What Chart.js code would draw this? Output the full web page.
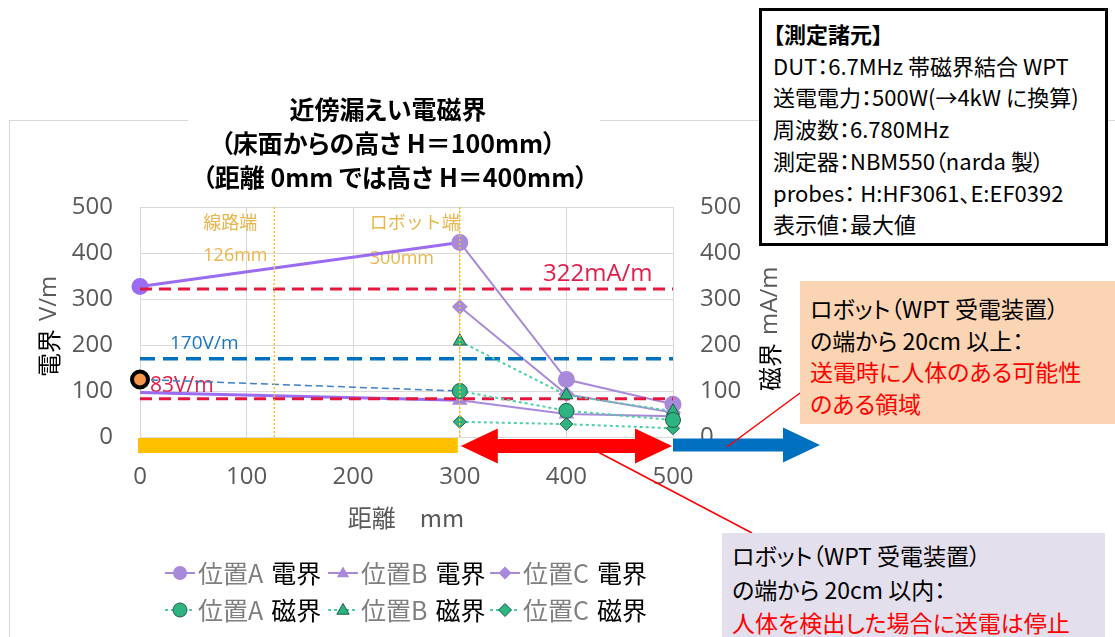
<!DOCTYPE html>
<html lang="ja">
<head>
<meta charset="utf-8">
<title>近傍漏えい電磁界</title>
<script src="https://cdn.jsdelivr.net/npm/chart.js@4.4.1/dist/chart.umd.min.js"></script>
<style>
  html, body { margin: 0; padding: 0; background: #fff; }
  #wrap { position: relative; width: 1115px; height: 637px; overflow: hidden; font-family: "Noto Sans CJK JP", sans-serif; }
  #frame { position: absolute; left: 9px; top: 120px; width: 1300px; height: 700px; border-left: 1px solid #d9d9d9; border-top: 1px solid #d9d9d9; }
  #chart { position: absolute; left: 0; top: 0; }
  .title { position: absolute; left: 188px; top: 92px; width: 412px; height: 102px; background: #fff; }
  .title div { position: absolute; width: 400px; text-align: center; font-weight: bold; font-size: 25px; line-height: 30px; color: #000; white-space: nowrap; font-feature-settings: "palt" 1; }
  .box { position: absolute; font-size: 21px; color: #000; white-space: nowrap; box-sizing: border-box; font-feature-settings: "palt" 1; }
  #spec { left: 759px; top: 8px; width: 349px; height: 238px; border: 3px solid #000; background: #fff; padding: 7px 0 0 11px; line-height: 31.7px; font-size: 22px; }
  #far { left: 800px; top: 281px; width: 330px; height: 143px; background: #fbd4b4; padding: 12px 0 0 10px; line-height: 31.7px; font-size: 23px; }
  #near { left: 722px; top: 533px; width: 383px; height: 110px; background: #e4dfec; padding: 6px 0 0 10px; line-height: 33.5px; font-size: 23px; }
  .red { color: #ff0000; }
</style>
</head>
<body>
<div id="wrap">
  <div id="frame"></div>
  <canvas id="chart" width="1115" height="637"></canvas>
  <div class="title">
    <div style="left: 0px; top: 1px;">近傍漏えい電磁界</div>
    <div style="left: 0px; top: 35px;">（床面からの高さ H＝100mm）</div>
    <div style="left: 7px; top: 69px;">（距離 0mm では高さ H＝400mm）</div>
  </div>
  <div id="spec" class="box">
    <b>【測定諸元】</b><br>
    DUT：6.7MHz 帯磁界結合 WPT<br>
    送電電力：500W(→4kW に換算)<br>
    周波数：6.780MHz<br>
    測定器：NBM550（narda 製）<br>
    probes： H:HF3061、E:EF0392<br>
    表示値：最大値
  </div>
  <div id="far" class="box">
    ロボット（WPT 受電装置）<br>
    の端から 20cm 以上：<br>
    <span class="red">送電時に人体のある可能性<br>のある領域</span>
  </div>
  <div id="near" class="box">
    ロボット（WPT 受電装置）<br>
    の端から 20cm 以内：<br>
    <span class="red">人体を検出した場合に送電は停止</span>
  </div>
</div>
<script>
// distances (mm) and measured values
const distances = [0, 300, 400, 500];
const posA_E = [327, 423, 125, 71];
const posB_E = [97, 80, 50, 45];
const posC_E = [null, 283, 93, 53];
const posA_H = [125, 100, 57, 37];
const posB_H = [null, 208, 91, 56];
const posC_H = [null, 33, 28, 19];

// reference levels and edge positions
const limitH = 322;      // mA/m
const limitE1 = 170;     // V/m
const limitE2 = 83;      // V/m
const lineEdge = 126;    // 線路端
const robotEdge = 300;   // ロボット端

const yTicks = [0, 100, 200, 300, 400, 500];
const xTicks = [0, 100, 200, 300, 400, 500];

const purple = "#a889da";
const purpleBright = "#9a6cf2";
const green = "#2fb381";
const greenEdge = "#1f5f48";
const greenLine = "#4fd0a2";
const gold = "#f2c12e";
const tickColor = "#595959";
const numFont = "'Open Sans', 'Noto Sans', sans-serif";
const jpFont = "'Noto Sans CJK JP', sans-serif";

function toPoints(values) {
  return distances.map((d, i) => ({ x: d, y: values[i] }));
}

function hLine(value) {
  return [{ x: 0, y: value }, { x: 500, y: value }];
}

function vLine(value) {
  return [{ x: value, y: 0 }, { x: value, y: 500 }];
}

const firstSeg = (a, b) => (ctx) => (ctx.p0DataIndex === 0 ? a : b);

const datasets = [
  {
    label: "位置A 電界", legendName: "位置A", legendKind: "電界",
    data: toPoints(posA_E),
    borderColor: purple, backgroundColor: purple, borderWidth: 2,
    pointStyle: "circle",
    pointRadius: 7.5,
    pointBackgroundColor: distances.map((d, i) => (i === 0 ? purpleBright : purple)),
    pointBorderColor: distances.map((d, i) => (i === 0 ? purpleBright : purple)),
    segment: { borderColor: firstSeg(purpleBright, undefined), borderWidth: firstSeg(3, undefined) },
    order: 3
  },
  {
    label: "位置B 電界", legendName: "位置B", legendKind: "電界",
    data: toPoints(posB_E),
    borderColor: purple, backgroundColor: purple, borderWidth: 2,
    pointStyle: "triangle",
    pointRadius: distances.map((d, i) => (i === 0 ? 0 : 7)),
    pointBorderColor: purple,
    segment: { borderColor: firstSeg(purpleBright, undefined), borderWidth: firstSeg(3, undefined) },
    order: 3
  },
  {
    label: "位置C 電界", legendName: "位置C", legendKind: "電界",
    data: toPoints(posC_E),
    borderColor: purple, backgroundColor: purple, borderWidth: 2,
    pointStyle: "rectRot", pointRadius: 6.5, pointBorderColor: purple,
    order: 3
  },
  {
    label: "位置A 磁界", legendName: "位置A", legendKind: "磁界",
    data: toPoints(posA_H),
    yAxisID: "y2",
    borderColor: greenLine, backgroundColor: green, borderWidth: 2, borderDash: [3, 3],
    pointStyle: "circle",
    pointRadius: distances.map((d, i) => (i === 0 ? 8 : 7.5)),
    pointBackgroundColor: distances.map((d, i) => (i === 0 ? "#f79646" : green)),
    pointBorderColor: distances.map((d, i) => (i === 0 ? "#000" : greenEdge)),
    pointBorderWidth: distances.map((d, i) => (i === 0 ? 4 : 1)),
    segment: {
      borderColor: firstSeg("#3f7fc6", undefined),
      borderDash: firstSeg([7, 4], undefined),
      borderWidth: firstSeg(1.5, undefined)
    },
    order: 1
  },
  {
    label: "位置B 磁界", legendName: "位置B", legendKind: "磁界",
    data: toPoints(posB_H),
    yAxisID: "y2",
    borderColor: greenLine, backgroundColor: green, borderWidth: 2, borderDash: [3, 3],
    pointStyle: "triangle", pointRadius: 7.5, pointBorderColor: greenEdge, pointBorderWidth: 1,
    order: 1
  },
  {
    label: "位置C 磁界", legendName: "位置C", legendKind: "磁界",
    data: toPoints(posC_H),
    yAxisID: "y2",
    borderColor: greenLine, backgroundColor: green, borderWidth: 2, borderDash: [3, 3],
    pointStyle: "rectRot", pointRadius: 6.5, pointBorderColor: greenEdge, pointBorderWidth: 1,
    order: 1
  },
  // reference levels
  { label: "322mA/m", data: hLine(limitH), yAxisID: "y2", borderColor: "#e5173f", borderWidth: 3, borderDash: [12, 7], pointRadius: 0, order: 2 },
  { label: "170V/m", data: hLine(limitE1), borderColor: "#0070c0", borderWidth: 3.5, borderDash: [15, 8], pointRadius: 0, order: 2 },
  { label: "83V/m", data: hLine(limitE2), borderColor: "#e5173f", borderWidth: 3, borderDash: [12, 7], pointRadius: 0, order: 2 },
  // edges
  { label: "線路端", data: vLine(lineEdge), borderColor: gold, borderWidth: 1.5, borderDash: [2, 2], pointRadius: 0, order: 0 },
  { label: "ロボット端", data: vLine(robotEdge), borderColor: gold, borderWidth: 1.5, borderDash: [2, 2], pointRadius: 0, order: 0 }
];

function drawMarker(ctx, style, x, y, r, fill, stroke, lw) {
  ctx.beginPath();
  if (style === "circle") {
    ctx.arc(x, y, r, 0, Math.PI * 2);
  } else if (style === "triangle") {
    ctx.moveTo(x, y - r);
    ctx.lineTo(x + r * 0.95, y + r * 0.65);
    ctx.lineTo(x - r * 0.95, y + r * 0.65);
    ctx.closePath();
  } else {
    ctx.moveTo(x, y - r);
    ctx.lineTo(x + r, y);
    ctx.lineTo(x, y + r);
    ctx.lineTo(x - r, y);
    ctx.closePath();
  }
  ctx.fillStyle = fill;
  ctx.fill();
  if (lw) {
    ctx.lineWidth = lw;
    ctx.strokeStyle = stroke;
    ctx.stroke();
  }
}

function arrow(ctx, x0, x1, yc, shaft, headLen, headH, both, color) {
  ctx.fillStyle = color;
  ctx.beginPath();
  if (both) {
    ctx.moveTo(x0, yc);
    ctx.lineTo(x0 + headLen, yc - headH / 2);
    ctx.lineTo(x0 + headLen, yc - shaft / 2);
  } else {
    ctx.moveTo(x0, yc - shaft / 2);
  }
  ctx.lineTo(x1 - headLen, yc - shaft / 2);
  ctx.lineTo(x1 - headLen, yc - headH / 2);
  ctx.lineTo(x1, yc);
  ctx.lineTo(x1 - headLen, yc + headH / 2);
  ctx.lineTo(x1 - headLen, yc + shaft / 2);
  if (both) {
    ctx.lineTo(x0 + headLen, yc + shaft / 2);
    ctx.lineTo(x0 + headLen, yc + headH / 2);
  } else {
    ctx.lineTo(x0, yc + shaft / 2);
  }
  ctx.closePath();
  ctx.fill();
}

const annotations = {
  id: "annotations",
  beforeDatasetsDraw(chart) {
    const { ctx, scales: { x, y } } = chart;
    ctx.save();
    ctx.textBaseline = "middle";
    ctx.textAlign = "left";
    ctx.fillStyle = "#e8b64a";
    ctx.font = `18px ${jpFont}`;
    ctx.fillText("線路端", x.getPixelForValue(lineEdge) - 71, 222);
    ctx.fillText("ロボット端", x.getPixelForValue(robotEdge) - 90, 222);
    ctx.font = `18px ${numFont}`;
    ctx.fillText(`${lineEdge}mm`, x.getPixelForValue(lineEdge) - 71, 256);
    ctx.fillText(`${robotEdge}mm`, x.getPixelForValue(robotEdge) - 90, 259);

    ctx.fillStyle = "#e0204a";
    ctx.font = `24px ${numFont}`;
    ctx.fillText(`${limitH}mA/m`, 543, y.getPixelForValue(limitH) - 15);
    ctx.font = `21px ${numFont}`;
    ctx.fillText(`${limitE2}V/m`, 150, y.getPixelForValue(limitE2) - 13);
    ctx.fillStyle = "#1a75c4";
    ctx.font = `19px ${numFont}`;
    ctx.fillText(`${limitE1}V/m`, 170, y.getPixelForValue(limitE1) - 15);
    ctx.restore();
  },
  afterDraw(chart) {
    const { ctx, scales: { x } } = chart;
    const x0 = x.getPixelForValue(0);
    const x300 = x.getPixelForValue(robotEdge);
    const x500 = x.getPixelForValue(500);
    ctx.save();

    // bands below the axis
    ctx.fillStyle = "#ffc000";
    ctx.fillRect(x0 - 2, 438, x300 - x0, 15);
    arrow(ctx, x300 + 1, x500 - 1, 446, 14, 37, 35, true, "#ff0000");
    arrow(ctx, x500, 820, 445, 13, 37, 35, false, "#0070c0");

    // callout lines
    ctx.strokeStyle = "#ff0000";
    ctx.lineWidth = 1.5;
    ctx.beginPath();
    ctx.moveTo(598, 452);
    ctx.lineTo(752, 533);
    ctx.moveTo(727, 447);
    ctx.lineTo(800, 393);
    ctx.stroke();

    // axis titles
    ctx.textBaseline = "middle";
    ctx.textAlign = "left";
    const axisTitle = (cx, cy, a, b) => {
      ctx.save();
      ctx.translate(cx, cy);
      ctx.rotate(-Math.PI / 2);
      ctx.font = `24px ${jpFont}`;
      ctx.fillStyle = "#000";
      ctx.fillText(a, 0, 0);
      const w = ctx.measureText(a).width + 8;
      ctx.font = `24px ${numFont}`;
      ctx.fillStyle = tickColor;
      ctx.fillText(b, w, 0);
      ctx.restore();
    };
    axisTitle(49, 377, "電界", "V/m");
    axisTitle(770, 391, "磁界", "mA/m");

    ctx.textAlign = "center";
    ctx.fillStyle = tickColor;
    ctx.font = `24px ${jpFont}`;
    ctx.fillText("距離　mm", 406, 518);

    // legend
    const starts = [165, 328, 490];
    const rows = [573, 610];
    const series = chart.data.datasets.filter((d) => d.legendKind);
    series.forEach((ds, i) => {
      const lx = starts[i % 3];
      const ly = rows[Math.floor(i / 3)];
      ctx.save();
      ctx.strokeStyle = ds.borderColor;
      ctx.lineWidth = 2;
      ctx.setLineDash(ds.borderDash || []);
      ctx.beginPath();
      ctx.moveTo(lx, ly);
      ctx.lineTo(lx + 30, ly);
      ctx.stroke();
      ctx.setLineDash([]);
      const isH = ds.legendKind === "磁界";
      drawMarker(ctx, ds.pointStyle, lx + 15, ly, ds.pointStyle === "circle" ? 7 : 6.5,
        isH ? green : purple, isH ? greenEdge : purple, isH ? 1 : 0);
      ctx.restore();
      ctx.textAlign = "left";
      ctx.font = `25px ${jpFont}`;
      ctx.fillStyle = "#7f7f7f";
      ctx.fillText(ds.legendName, lx + 33, ly);
      const w = ctx.measureText(ds.legendName).width;
      ctx.fillStyle = "#000";
      ctx.fillText(ds.legendKind, lx + 33 + w + 8, ly);
    });
    ctx.restore();
  }
};

const tickFont = { size: 24, family: numFont };

new Chart(document.getElementById("chart"), {
  type: "line",
  data: { datasets },
  options: {
    responsive: false,
    animation: false,
    layout: { padding: { left: 0, right: 332, top: 207, bottom: 100 } },
    plugins: { legend: { display: false }, tooltip: { enabled: false }, title: { display: false } },
    elements: { line: { tension: 0 } },
    datasets: { line: { clip: false, spanGaps: false } },
    scales: {
      x: {
        type: "linear", min: 0, max: 500,
        afterBuildTicks: (s) => { s.ticks = xTicks.map((v) => ({ value: v })); },
        ticks: { padding: 26, color: tickColor, font: tickFont },
        grid: { color: "#d9d9d9", drawTicks: false },
        border: { display: false },
        afterFit: (s) => { s.height = 100; }
      },
      y: {
        position: "left", min: 0, max: 500,
        afterBuildTicks: (s) => { s.ticks = yTicks.map((v) => ({ value: v })); },
        ticks: { padding: 27, color: tickColor, font: tickFont },
        grid: { color: "#d9d9d9", drawTicks: false },
        border: { display: false },
        afterFit: (s) => { s.width = 140; }
      },
      y2: {
        position: "right", min: 0, max: 500,
        afterBuildTicks: (s) => { s.ticks = yTicks.map((v) => ({ value: v })); },
        ticks: { padding: 27, color: tickColor, font: tickFont },
        grid: { display: false, drawTicks: false },
        border: { display: false },
        afterFit: (s) => { s.width = 110; }
      }
    }
  },
  plugins: [annotations]
});
</script>
</body>
</html>
